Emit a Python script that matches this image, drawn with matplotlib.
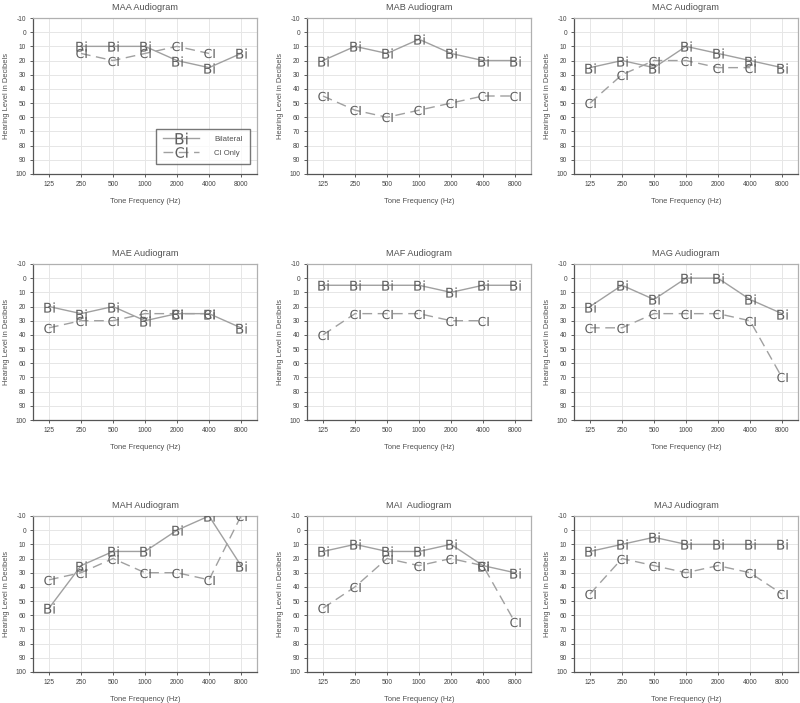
import matplotlib
matplotlib.use("Agg")
import matplotlib.pyplot as plt
import numpy as np

plt.rcParams['font.family'] = ['Liberation Sans', 'DejaVu Sans']

freqs = ["125", "250", "500", "1000", "2000", "4000", "8000"]
yticks = [-10, 0, 10, 20, 30, 40, 50, 60, 70, 80, 90, 100]

titles = ["MAA Audiogram", "MAB Audiogram", "MAC Audiogram",
          "MAE Audiogram", "MAF Audiogram", "MAG Audiogram",
          "MAH Audiogram", "MAI  Audiogram", "MAJ Audiogram"]

N = None
maa_bi = [N, 10, 10, 10, 20, 25, 15]
maa_ci = [N, 15, 20, 15, 10, 15, N]
mab_bi = [20, 10, 15, 5, 15, 20, 20]
mab_ci = [45, 55, 60, 55, 50, 45, 45]
mac_bi = [25, 20, 25, 10, 15, 20, 25]
mac_ci = [50, 30, 20, 20, 25, 25, N]
mae_bi = [20, 25, 20, 30, 25, 25, 35]
mae_ci = [35, 30, 30, 25, 25, 25, N]
maf_bi = [5, 5, 5, 5, 10, 5, 5]
maf_ci = [40, 25, 25, 25, 30, 30, N]
mag_bi = [20, 5, 15, 0, 0, 15, 25]
mag_ci = [35, 35, 25, 25, 25, 30, 70]
mah_bi = [55, 25, 15, 15, 0, -10, 25]
mah_ci = [35, 30, 20, 30, 30, 35, -10]
mai_bi = [15, 10, 15, 15, 10, 25, 30]
mai_ci = [55, 40, 20, 25, 20, 25, 65]
maj_bi = [15, 10, 5, 10, 10, 10, 10]
maj_ci = [45, 20, 25, 30, 25, 30, 45]

bi_series = [maa_bi, mab_bi, mac_bi, mae_bi, maf_bi, mag_bi, mah_bi, mai_bi, maj_bi]
ci_series = [maa_ci, mab_ci, mac_ci, mae_ci, maf_ci, mag_ci, mah_ci, mai_ci, maj_ci]

W, H = 800, 703
fig = plt.figure(figsize=(W / 100, H / 100), dpi=100)

lefts = [33, 307, 574]
tops = [18, 264, 516]
aw, ah = 224, 156

line_col = "#a0a0a0"
text_col = "#606060"
lab_col = "#505050"

for i in range(9):
    r, c = divmod(i, 3)
    ax = fig.add_axes([lefts[c] / W, 1 - (tops[r] + ah) / H, aw / W, ah / H])
    x = np.arange(len(freqs))
    bi = np.array([np.nan if v is None else v for v in bi_series[i]], dtype=float)
    ci = np.array([np.nan if v is None else v for v in ci_series[i]], dtype=float)
    mb = ~np.isnan(bi)
    mc = ~np.isnan(ci)
    ax.plot(x[mc], ci[mc], color=line_col, lw=1.0, dashes=(7, 4),
            marker=r'$\mathrm{CI}$', markersize=7.5, markeredgewidth=0,
            markerfacecolor=text_col, markeredgecolor=text_col, label="CI Only", zorder=3)
    ax.plot(x[mb], bi[mb], color=line_col, lw=1.0,
            marker=r'$\mathrm{Bi}$', markersize=7.5, markeredgewidth=0,
            markerfacecolor=text_col, markeredgecolor=text_col, label="Bilateral", zorder=4)
    ax.set_xlim(-0.5, 6.5)
    ax.set_ylim(100, -10)
    ax.set_xticks(x)
    ax.set_xticklabels(freqs)
    ax.set_yticks(yticks)
    ax.set_yticklabels([str(v) for v in yticks])
    ax.tick_params(labelsize=4.8, colors="#444444", length=2.5, width=0.6, pad=2.5)
    ax.grid(True, color="#e6e6e6", lw=0.7)
    ax.set_axisbelow(True)
    for s in ["left", "bottom"]:
        ax.spines[s].set_color("#555555")
        ax.spines[s].set_linewidth(0.9)
    for s in ["top", "right"]:
        ax.spines[s].set_color("#b0b0b0")
        ax.spines[s].set_linewidth(0.9)
    ax.set_title(titles[i], fontsize=6.6, color=lab_col, pad=6)
    ax.set_xlabel("Tone Frequency (Hz)", fontsize=5.4, color=lab_col, labelpad=7)
    ax.set_ylabel("Hearing Level in Decibels", fontsize=5.4, color=lab_col, labelpad=4)
    if i == 0:
        h, l = ax.get_legend_handles_labels()
        leg = ax.legend(h[::-1], l[::-1], loc="lower right", fontsize=5.6,
                        frameon=True, fancybox=False, borderpad=0.9,
                        handlelength=4.6, handletextpad=2.0, labelspacing=0.8,
                        markerscale=1.15,
                        bbox_to_anchor=(0.985, 0.04))
        leg.get_frame().set_edgecolor("#555555")
        leg.get_frame().set_linewidth(1.0)
        for t in leg.get_texts():
            t.set_color(lab_col)

fig.savefig("out.png", dpi=100)
